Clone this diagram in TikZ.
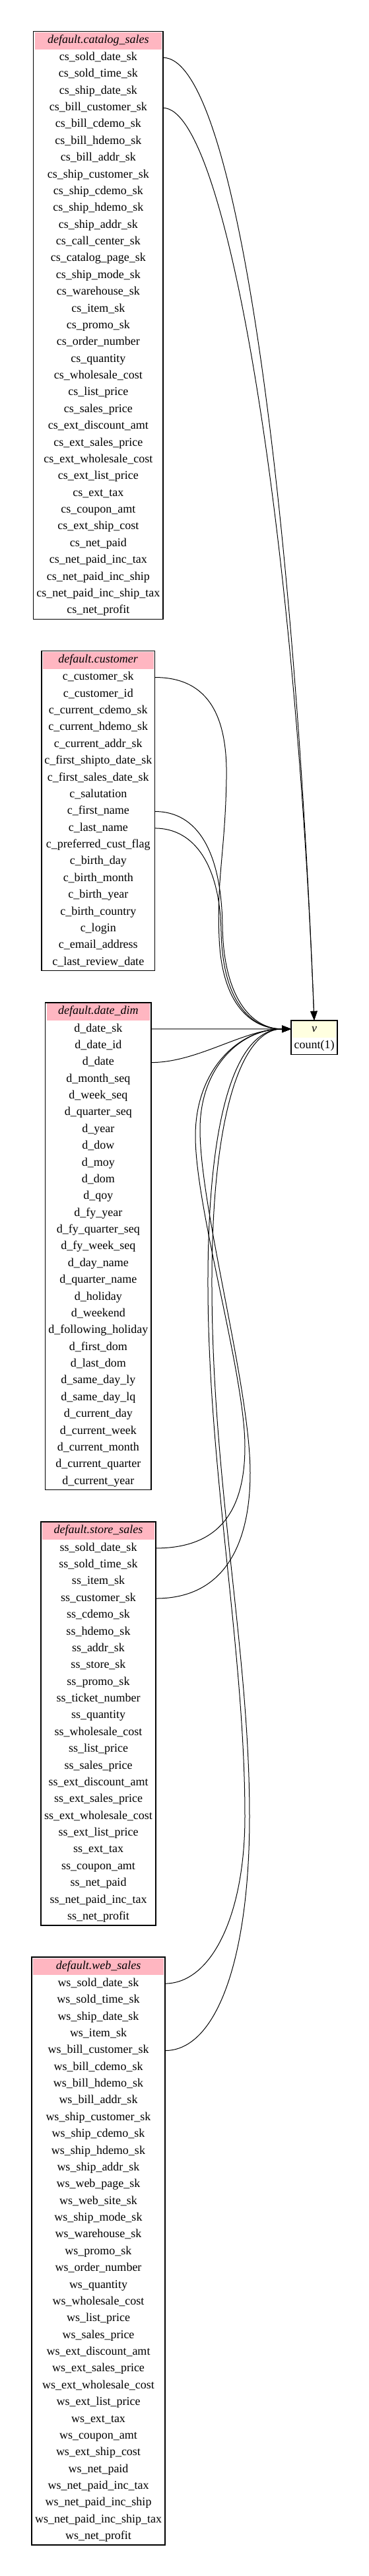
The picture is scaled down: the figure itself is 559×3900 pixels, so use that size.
\documentclass[tikz,border=0pt]{standalone}
\usepackage{fontspec}
\setmainfont{Liberation Serif}
\usetikzlibrary{arrows.meta}
\definecolor{hdrpink}{HTML}{FFB6C1}
\definecolor{vyellow}{HTML}{FFFFE0}
\tikzset{
  cellfont/.style={font=\fontsize{18pt}{21pt}\selectfont},
  rowcell/.style={cellfont, inner sep=0pt, outer sep=0pt, minimum height=25.375pt, text height=12.5pt, text depth=4pt},
  hdrcell/.style={cellfont, inner sep=0pt, outer sep=0pt, minimum height=27.25pt, text height=12.5pt, text depth=4pt,
    path picture={\fill[#1] ([shift={(2pt,-1.5pt)}]path picture bounding box.north west) rectangle ([shift={(-2pt,0pt)}]path picture bounding box.south east);}},
  tblbox/.style={draw=black, line width=1.3pt, inner sep=0pt, outer sep=0pt, fill=none},
  fkedge/.style={draw=black, line width=1pt, -{Triangle[length=14pt,width=10.5pt]}}
}
% name, center x, top y, width, title, number of rows, rows
\newcommand{\dbtable}[7]{%
  \node[hdrcell=hdrpink, minimum width=#4pt] (#1-h) at (#2, {#3+13.625}) {\textit{#5}};
  \foreach \r [count=\i] in {#7} {
    \node[rowcell, minimum width=#4pt] (#1-\i) at (#2, {#3+27.25+(\i-0.5)*25.375}) {\r};
  }
  \node[tblbox, minimum width=#4pt, minimum height={(27.25+#6*25.375)*1pt}, anchor=north] (#1) at (#2,#3) {};
}
\begin{document}
\begin{tikzpicture}[x=1pt, y=-1pt]
\useasboundingbox (0,0) rectangle (559,3900);

\dbtable{cs}{148.85}{47.3}{196.3}{default.catalog\_sales}{34}{cs\_sold\_date\_sk,cs\_sold\_time\_sk,cs\_ship\_date\_sk,cs\_bill\_customer\_sk,cs\_bill\_cdemo\_sk,cs\_bill\_hdemo\_sk,cs\_bill\_addr\_sk,cs\_ship\_customer\_sk,cs\_ship\_cdemo\_sk,cs\_ship\_hdemo\_sk,cs\_ship\_addr\_sk,cs\_call\_center\_sk,cs\_catalog\_page\_sk,cs\_ship\_mode\_sk,cs\_warehouse\_sk,cs\_item\_sk,cs\_promo\_sk,cs\_order\_number,cs\_quantity,cs\_wholesale\_cost,cs\_list\_price,cs\_sales\_price,cs\_ext\_discount\_amt,cs\_ext\_sales\_price,cs\_ext\_wholesale\_cost,cs\_ext\_list\_price,cs\_ext\_tax,cs\_coupon\_amt,cs\_ext\_ship\_cost,cs\_net\_paid,cs\_net\_paid\_inc\_tax,cs\_net\_paid\_inc\_ship,cs\_net\_paid\_inc\_ship\_tax,cs\_net\_profit}

\dbtable{c}{148.75}{985.6}{171.7}{default.customer}{18}{c\_customer\_sk,c\_customer\_id,c\_current\_cdemo\_sk,c\_current\_hdemo\_sk,c\_current\_addr\_sk,c\_first\_shipto\_date\_sk,c\_first\_sales\_date\_sk,c\_salutation,c\_first\_name,c\_last\_name,c\_preferred\_cust\_flag,c\_birth\_day,c\_birth\_month,c\_birth\_year,c\_birth\_country,c\_login,c\_email\_address,c\_last\_review\_date}

\dbtable{d}{148.8}{1517.9}{160.4}{default.date\_dim}{28}{d\_date\_sk,d\_date\_id,d\_date,d\_month\_seq,d\_week\_seq,d\_quarter\_seq,d\_year,d\_dow,d\_moy,d\_dom,d\_qoy,d\_fy\_year,d\_fy\_quarter\_seq,d\_fy\_week\_seq,d\_day\_name,d\_quarter\_name,d\_holiday,d\_weekend,d\_following\_holiday,d\_first\_dom,d\_last\_dom,d\_same\_day\_ly,d\_same\_day\_lq,d\_current\_day,d\_current\_week,d\_current\_month,d\_current\_quarter,d\_current\_year}

\dbtable{ss}{149}{2303.95}{174}{default.store\_sales}{23}{ss\_sold\_date\_sk,ss\_sold\_time\_sk,ss\_item\_sk,ss\_customer\_sk,ss\_cdemo\_sk,ss\_hdemo\_sk,ss\_addr\_sk,ss\_store\_sk,ss\_promo\_sk,ss\_ticket\_number,ss\_quantity,ss\_wholesale\_cost,ss\_list\_price,ss\_sales\_price,ss\_ext\_discount\_amt,ss\_ext\_sales\_price,ss\_ext\_wholesale\_cost,ss\_ext\_list\_price,ss\_ext\_tax,ss\_coupon\_amt,ss\_net\_paid,ss\_net\_paid\_inc\_tax,ss\_net\_profit}

\dbtable{ws}{149}{2963.1}{202}{default.web\_sales}{34}{ws\_sold\_date\_sk,ws\_sold\_time\_sk,ws\_ship\_date\_sk,ws\_item\_sk,ws\_bill\_customer\_sk,ws\_bill\_cdemo\_sk,ws\_bill\_hdemo\_sk,ws\_bill\_addr\_sk,ws\_ship\_customer\_sk,ws\_ship\_cdemo\_sk,ws\_ship\_hdemo\_sk,ws\_ship\_addr\_sk,ws\_web\_page\_sk,ws\_web\_site\_sk,ws\_ship\_mode\_sk,ws\_warehouse\_sk,ws\_promo\_sk,ws\_order\_number,ws\_quantity,ws\_wholesale\_cost,ws\_list\_price,ws\_sales\_price,ws\_ext\_discount\_amt,ws\_ext\_sales\_price,ws\_ext\_wholesale\_cost,ws\_ext\_list\_price,ws\_ext\_tax,ws\_coupon\_amt,ws\_ext\_ship\_cost,ws\_net\_paid,ws\_net\_paid\_inc\_tax,ws\_net\_paid\_inc\_ship,ws\_net\_paid\_inc\_ship\_tax,ws\_net\_profit}

% view node
\node[hdrcell=vyellow, minimum width=70pt, minimum height=26pt] (v-h) at (476,1557.84) {\textit{v}};
\node[rowcell, minimum width=70pt] (v-1) at (476,1583.54) {count(1)};
\node[tblbox, minimum width=70pt, minimum height=51.4pt, anchor=north] (v) at (v-h.north) {};

% catalog_sales edges
\draw[fkedge] (cs-1.east) .. controls +(110,0) and +(-32,-800) .. (v-h.north);
\draw[fkedge] (cs-4.east) .. controls +(95,0) and +(-30,-760) .. (v-h.north);

% customer edges
\draw[fkedge] (c-1.east) .. controls +(85,0) and (345,1090) .. (343,1180) .. controls (341,1290) and (328,1330) .. (332,1420) .. controls (336,1520) and +(-61,0) .. (v-h.west);
\draw[fkedge] (c-9.east) .. controls +(65,0) and (335,1290) .. (337,1400) .. controls (338,1510) and +(-60,0) .. (v-h.west);
\draw[fkedge] (c-10.east) .. controls +(60,0) and (333,1310) .. (335,1410) .. controls (337,1515) and +(-62,0) .. (v-h.west);

% date_dim edges
\draw[fkedge] (d-1.east) -- (v-h.west);
\draw[fkedge] (d-3.east) .. controls +(71,0) and +(-71,0) .. (v-h.west);

% store_sales edges
\draw[fkedge] (ss-1.east) .. controls +(94,0) and (371,2290) .. (371,2190) .. controls (371,2080) and (296,1830) .. (296,1720) .. controls (296,1620) and +(-80,0) .. (v-h.west);
\draw[fkedge] (ss-4.east) .. controls +(109,0) and (379,2330) .. (379,2230) .. controls (379,2100) and (303,1830) .. (303,1710) .. controls (303,1615) and +(-76,0) .. (v-h.west);

% web_sales edges
\draw[fkedge] (ws-1.east) .. controls +(70,0) and (371,2900) .. (371,2750) .. controls (371,2500) and (316,2230) .. (315,1950) .. controls (314,1680) and +(-81,0) .. (v-h.west);
\draw[fkedge] (ws-5.east) .. controls +(80,0) and (378,2960) .. (378,2750) .. controls (378,2500) and (322,2250) .. (321,1950) .. controls (320,1690) and +(-76,0) .. (v-h.west);
\end{tikzpicture}
\end{document}
